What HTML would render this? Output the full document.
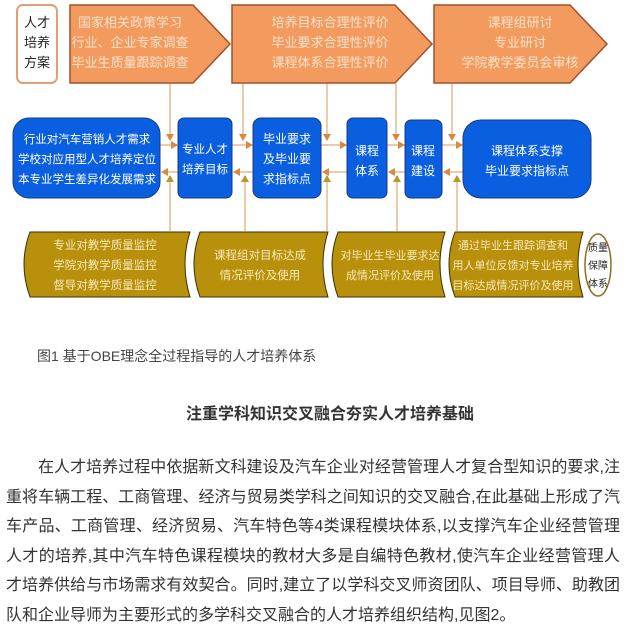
<!DOCTYPE html>
<html><head><meta charset="utf-8"><style>
body{margin:0;background:#fff;width:627px;height:640px;overflow:hidden;position:relative;font-family:"Liberation Sans","Noto Sans CJK SC",sans-serif;}
svg text{font-family:"Liberation Sans","Noto Sans CJK SC",sans-serif;}
.cap{position:absolute;left:37px;top:346px;font-size:14px;color:#444;}
.h{position:absolute;left:0;width:660px;text-align:center;top:400px;font-size:16px;font-weight:bold;color:#333;}
.p{position:absolute;left:6px;top:453px;width:614px;font-size:16px;line-height:29.5px;color:#333;}
.p div{text-align:justify;text-align-last:justify;white-space:nowrap;}
.p div.l{text-align-last:left;}
</style></head><body>
<svg width="627" height="300" style="position:absolute;left:0;top:0">
<defs>
<marker id="a" markerWidth="8" markerHeight="8" refX="6" refY="4" orient="auto" markerUnits="userSpaceOnUse"><path d="M0,0 L7,4 L0,8 z" fill="#d9883f"/></marker>
<marker id="b" markerWidth="8" markerHeight="8" refX="6" refY="4" orient="auto" markerUnits="userSpaceOnUse"><path d="M0,0 L7,4 L0,8 z" fill="#b8982a"/></marker>
</defs>
<rect x="17" y="5" width="40" height="78" rx="6" fill="#fff" stroke="#e0a070" stroke-width="2"/>
<g font-size="13" fill="#222" text-anchor="middle"><text x="37" y="27">人才</text><text x="37" y="47">培养</text><text x="37" y="67">方案</text></g>
<g fill="#f39a5e" stroke="#a0522d" stroke-width="1.5">
<polygon points="70,5 193,5 230,44 193,83 70,83"/>
<polygon points="232,5 395,5 432,44 395,83 232,83"/>
<polygon points="434,5 570,5 607,44 570,83 434,83"/>
</g>
<g font-size="13" fill="#fde3cc" text-anchor="middle">
<text x="130" y="27">国家相关政策学习</text><text x="130" y="47">行业、企业专家调查</text><text x="130" y="67">毕业生质量跟踪调查</text>
<text x="330" y="27">培养目标合理性评价</text><text x="330" y="47">毕业要求合理性评价</text><text x="330" y="67">课程体系合理性评价</text>
<text x="520" y="27">课程组研讨</text><text x="520" y="47">专业研讨</text><text x="520" y="67">学院教学委员会审核</text>
</g>
<g stroke="#e8b890" stroke-width="1.5" fill="none">
<line x1="170" y1="84" x2="170" y2="140" marker-end="url(#a)"/>
<line x1="243" y1="84" x2="243" y2="140" marker-end="url(#a)"/>
<line x1="327" y1="84" x2="327" y2="140" marker-end="url(#a)"/>
<line x1="396" y1="84" x2="396" y2="140" marker-end="url(#a)"/>
<line x1="452" y1="84" x2="452" y2="140" marker-end="url(#a)"/>
<line x1="160" y1="145" x2="177" y2="145" marker-end="url(#a)"/>
<line x1="232" y1="145" x2="252" y2="145" marker-end="url(#a)"/>
<line x1="321" y1="145" x2="346" y2="145" marker-end="url(#a)"/>
<line x1="387" y1="145" x2="404" y2="145" marker-end="url(#a)"/>
<line x1="442" y1="145" x2="462" y2="145" marker-end="url(#a)"/>
<line x1="178" y1="172" x2="162" y2="172" marker-end="url(#a)"/>
<line x1="253" y1="172" x2="234" y2="172" marker-end="url(#a)"/>
<line x1="347" y1="172" x2="323" y2="172" marker-end="url(#a)"/>
<line x1="405" y1="172" x2="389" y2="172" marker-end="url(#a)"/>
<line x1="463" y1="172" x2="444" y2="172" marker-end="url(#a)"/>
<line x1="170" y1="231" x2="170" y2="176" marker-end="url(#b)"/>
<line x1="245" y1="231" x2="245" y2="176" marker-end="url(#b)"/>
<line x1="327" y1="231" x2="327" y2="176" marker-end="url(#b)"/>
<line x1="397" y1="231" x2="397" y2="176" marker-end="url(#b)"/>
<line x1="457" y1="231" x2="457" y2="176" marker-end="url(#b)"/>
</g>
<g fill="#0a5fe0" stroke="#1a3a80" stroke-width="1">
<rect x="13" y="118" width="147" height="80" rx="16"/>
<rect x="178" y="118" width="54" height="80" rx="6"/>
<rect x="253" y="118" width="68" height="80" rx="8"/>
<rect x="347" y="118" width="40" height="80" rx="6"/>
<rect x="405" y="120" width="37" height="78" rx="6"/>
<rect x="463" y="120" width="128" height="78" rx="18"/>
</g>
<g font-size="12" fill="#fff" text-anchor="middle">
<text x="87" y="143" font-size="11.5">行业对汽车营销人才需求</text><text x="87" y="163" font-size="11.5">学校对应用型人才培养定位</text><text x="87" y="183" font-size="11.5">本专业学生差异化发展需求</text>
<text x="205" y="153" font-size="11.5">专业人才</text><text x="205" y="173" font-size="11.5">培养目标</text>
<text x="287" y="143">毕业要求</text><text x="287" y="163">及毕业要</text><text x="287" y="183">求指标点</text>
<text x="367" y="155">课程</text><text x="367" y="175">体系</text>
<text x="423" y="155">课程</text><text x="423" y="175">建设</text>
<text x="527" y="155">课程体系支撑</text><text x="527" y="175">毕业要求指标点</text>
</g>
<g fill="#b8900c" stroke="#3a3000" stroke-width="1">
<path d="M30,232 L190,232 Q180,264 190,297 L30,297 Q18,264 30,232 z"/>
<path d="M200,232 L328,232 Q318,264 328,297 L200,297 Q188,264 200,232 z"/>
<path d="M338,232 L445,232 Q435,264 445,297 L338,297 Q326,264 338,232 z"/>
<path d="M455,232 L583,232 Q573,264 583,297 L455,297 Q443,264 455,232 z"/>
</g>
<ellipse cx="598" cy="265" rx="13" ry="31" fill="#fff" stroke="#8a7020" stroke-width="1.5"/>
<g font-size="11.5" fill="#f7e9b8" text-anchor="middle">
<text x="105" y="249">专业对教学质量监控</text><text x="105" y="269">学院对教学质量监控</text><text x="105" y="289">督导对教学质量监控</text>
<text x="260" y="259">课程组对目标达成</text><text x="260" y="279">情况评价及使用</text>
<text x="390" y="259" font-size="11">对毕业生毕业要求达</text><text x="390" y="279" font-size="11">成情况评价及使用</text>
<text x="513" y="249" font-size="11">通过毕业生跟踪调查和</text><text x="513" y="269" font-size="11">用人单位反馈对专业培养</text><text x="513" y="289" font-size="11">目标达成情况评价及使用</text>
</g>
<g font-size="10" fill="#222" text-anchor="middle"><text x="598" y="251">质量</text><text x="598" y="269">保障</text><text x="598" y="287">体系</text></g>
</svg>
<div class="cap">图1 基于OBE理念全过程指导的人才培养体系</div>
<div class="h">注重学科知识交叉融合夯实人才培养基础</div>
<div class="p">
<div style="padding-left:32px">在人才培养过程中依据新文科建设及汽车企业对经营管理人才复合型知识的要求,注</div>
<div>重将车辆工程、工商管理、经济与贸易类学科之间知识的交叉融合,在此基础上形成了汽</div>
<div>车产品、工商管理、经济贸易、汽车特色等4类课程模块体系,以支撑汽车企业经营管理</div>
<div>人才的培养,其中汽车特色课程模块的教材大多是自编特色教材,使汽车企业经营管理人</div>
<div>才培养供给与市场需求有效契合。同时,建立了以学科交叉师资团队、项目导师、助教团</div>
<div class="l">队和企业导师为主要形式的多学科交叉融合的人才培养组织结构,见图2。</div>
</div>
</body></html>
